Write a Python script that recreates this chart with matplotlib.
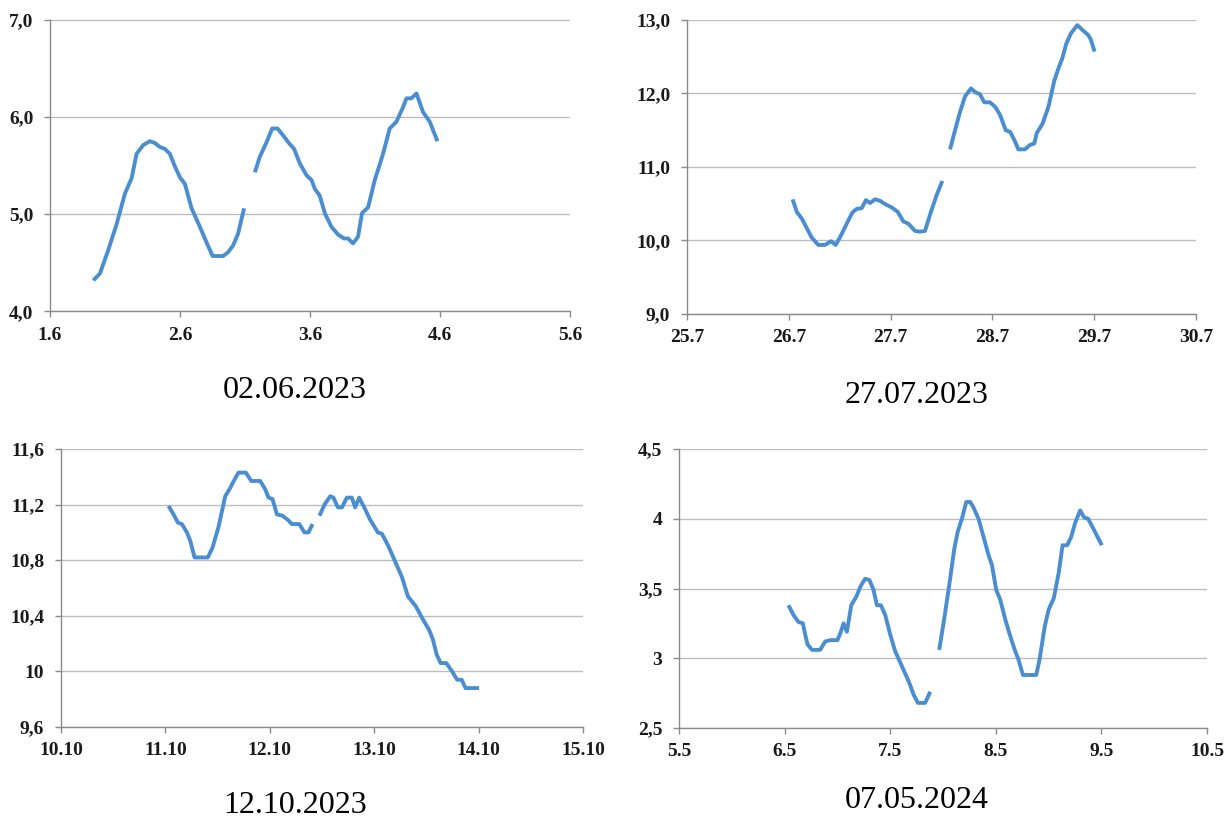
import numpy as np
import matplotlib.pyplot as plt

nan = np.nan

# 02.06.2023 (x in days, ticks 1..5 -> "1.6".."5.6")
x1 = [1.333, 1.384, 1.448, 1.513, 1.576, 1.628, 1.666, 1.717, 1.769, 1.807, 1.846, 1.884,
      1.922, 1.961, 1.999, 2.038, 2.089, 2.153, 2.204, 2.251, 2.294, 2.332, 2.371, 2.409,
      2.447, 2.493, nan,
      2.576, 2.614, 2.666, 2.709, 2.750, 2.793, 2.832, 2.878, 2.922, 2.973, 3.012, 3.037,
      3.075, 3.114, 3.165, 3.216, 3.262, 3.293, 3.331, 3.370, 3.400, 3.447, 3.498, 3.562,
      3.613, 3.665, 3.716, 3.742, 3.780, 3.819, 3.869, 3.921, 3.980]
y1 = [4.32, 4.39, 4.63, 4.90, 5.21, 5.37, 5.62, 5.71, 5.75, 5.73, 5.69, 5.67,
      5.62, 5.49, 5.38, 5.31, 5.06, 4.87, 4.71, 4.57, 4.57, 4.57, 4.61, 4.68,
      4.80, 5.06, nan,
      5.43, 5.59, 5.74, 5.88, 5.88, 5.81, 5.74, 5.67, 5.52, 5.40, 5.35, 5.26,
      5.19, 5.01, 4.87, 4.79, 4.75, 4.75, 4.70, 4.77, 5.01, 5.07, 5.35, 5.62,
      5.88, 5.95, 6.10, 6.19, 6.19, 6.24, 6.05, 5.95, 5.75]

# 27.07.2023
x2 = [26.038, 26.078, 26.127, 26.176, 26.225, 26.290, 26.356, 26.415, 26.461, 26.513,
      26.569, 26.624, 26.667, 26.716, 26.758, 26.798, 26.847, 26.896, 26.952, 27.011,
      27.070, 27.125, 27.174, 27.240, 27.289, 27.338, 27.387, 27.453, 27.508, nan,
      27.584, 27.633, 27.682, 27.731, 27.790, 27.829, 27.878, 27.920, 27.976, 28.026,
      28.075, 28.131, 28.173, 28.215, 28.255, 28.320, 28.369, 28.412, 28.435, 28.493,
      28.551, 28.609, 28.648, 28.687, 28.726, 28.772, 28.834, 28.880, 28.938, 28.965,
      29.004]
y2 = [10.56, 10.39, 10.30, 10.17, 10.04, 9.94, 9.94, 9.99, 9.94, 10.07,
      10.23, 10.38, 10.43, 10.44, 10.55, 10.51, 10.56, 10.54, 10.49, 10.45,
      10.39, 10.26, 10.23, 10.13, 10.12, 10.13, 10.35, 10.62, 10.81, nan,
      11.24, 11.50, 11.75, 11.96, 12.07, 12.02, 11.99, 11.88, 11.88, 11.82,
      11.71, 11.50, 11.48, 11.37, 11.24, 11.24, 11.30, 11.32, 11.46, 11.59,
      11.82, 12.18, 12.34, 12.48, 12.68, 12.82, 12.93, 12.87, 12.80, 12.74,
      12.57]

# 12.10.2023
x3 = [11.030, 11.078, 11.120, 11.158, 11.206, 11.238, 11.279, 11.333, 11.407, 11.451,
      11.509, 11.573, 11.621, 11.669, 11.700, 11.771, 11.822, 11.908, 11.956, 11.988,
      12.026, 12.068, 12.122, 12.173, 12.212, 12.282, 12.332, 12.371, 12.409, nan,
      12.476, 12.524, 12.579, 12.610, 12.652, 12.691, 12.738, 12.786, 12.818, 12.856,
      12.898, 12.962, 13.035, 13.074, 13.137, 13.201, 13.265, 13.323, 13.397, 13.470,
      13.525, 13.562, 13.599, 13.636, 13.691, 13.746, 13.794, 13.838, 13.875, 13.930,
      14.004]
y3 = [11.19, 11.13, 11.07, 11.06, 11.00, 10.94, 10.82, 10.82, 10.82, 10.89,
      11.04, 11.26, 11.32, 11.39, 11.43, 11.43, 11.37, 11.37, 11.31, 11.25,
      11.24, 11.13, 11.12, 11.09, 11.06, 11.06, 11.00, 11.00, 11.06, nan,
      11.12, 11.20, 11.26, 11.25, 11.18, 11.18, 11.25, 11.25, 11.18, 11.25,
      11.19, 11.09, 11.00, 10.99, 10.90, 10.79, 10.68, 10.54, 10.47, 10.37,
      10.30, 10.23, 10.12, 10.06, 10.06, 10.00, 9.94, 9.94, 9.88, 9.88,
      9.88]

# 07.05.2024
x4 = [6.037, 6.084, 6.132, 6.173, 6.195, 6.217, 6.259, 6.337, 6.384, 6.432,
      6.501, 6.533, 6.558, 6.590, 6.612, 6.631, 6.678, 6.722, 6.763, 6.804,
      6.842, 6.874, 6.912, 6.953, 7.000, 7.047, 7.095, 7.142, 7.183, 7.221,
      7.262, 7.331, 7.379, nan,
      7.464, 7.511, 7.562, 7.606, 7.637, 7.679, 7.720, 7.758, 7.789, 7.836,
      7.884, 7.931, 7.963, 8.004, 8.042, 8.089, 8.136, 8.184, 8.215, 8.257,
      8.326, 8.383, 8.414, 8.464, 8.501, 8.549, 8.595, 8.632, 8.676, 8.714,
      8.751, 8.799, 8.836, 8.874, 8.930, 9.004]
y4 = [3.38, 3.31, 3.26, 3.25, 3.17, 3.10, 3.06, 3.06, 3.12, 3.13,
      3.13, 3.19, 3.25, 3.19, 3.29, 3.38, 3.44, 3.52, 3.57, 3.56,
      3.49, 3.38, 3.38, 3.31, 3.17, 3.05, 2.97, 2.89, 2.82, 2.74,
      2.68, 2.68, 2.76, nan,
      3.06, 3.28, 3.54, 3.78, 3.90, 4.00, 4.12, 4.12, 4.08, 4.00,
      3.87, 3.74, 3.67, 3.49, 3.42, 3.28, 3.16, 3.05, 2.99, 2.88,
      2.88, 2.88, 2.99, 3.23, 3.35, 3.43, 3.61, 3.81, 3.81, 3.87,
      3.97, 4.06, 4.01, 4.00, 3.92, 3.81]

xt1 = ['1.6', '2.6', '3.6', '4.6', '5.6']
xt2 = ['25.7', '26.7', '27.7', '28.7', '29.7', '30.7']
xt3 = ['10.10', '11.10', '12.10', '13.10', '14.10', '15.10']
xt4 = ['5.5', '6.5', '7.5', '8.5', '9.5', '10.5']

yv1 = [4, 5, 6, 7]
yt1 = ['4,0', '5,0', '6,0', '7,0']
yv2 = [9, 10, 11, 12, 13]
yt2 = ['9,0', '10,0', '11,0', '12,0', '13,0']
yv3 = [9.6, 10.0, 10.4, 10.8, 11.2, 11.6]
yt3 = ['9,6', '10', '10,4', '10,8', '11,2', '11,6']
yv4 = [2.5, 3.0, 3.5, 4.0, 4.5]
yt4 = ['2,5', '3', '3,5', '4', '4,5']

captions = ['02.06.2023', '27.07.2023', '12.10.2023', '07.05.2024']

plt.rcParams['font.family'] = ['Liberation Serif', 'DejaVu Serif']

fig = plt.figure(figsize=(12.27, 8.22), dpi=100)

W, H = 1227.0, 822.0
# axes boxes in pixels: left, top, right, bottom
boxes = [(50, 19.5, 570, 311.5), (687, 20, 1196, 314),
         (61, 449, 583, 727), (679, 449, 1207, 728)]

panels = [
    (x1, y1, 1, xt1, yv1, yt1),
    (x2, y2, 25, xt2, yv2, yt2),
    (x3, y3, 10, xt3, yv3, yt3),
    (x4, y4, 5, xt4, yv4, yt4),
]

line_col = '#4a8ed0'
grid_col = '#bdbdbd'
axis_col = '#8a8a8a'

for (l, t, r, b), (xs, ys, x0, xt, yv, yt) in zip(boxes, panels):
    ax = fig.add_axes([l / W, 1 - b / H, (r - l) / W, (b - t) / H])
    ax.plot(xs, ys, color=line_col, lw=2.8, solid_capstyle='butt')
    ax.set_xlim(x0, x0 + len(xt) - 1)
    ax.set_ylim(yv[0], yv[-1])
    ax.set_xticks(np.arange(x0, x0 + len(xt)))
    ax.set_xticklabels(xt)
    ax.set_yticks(yv)
    ax.set_yticklabels(yt)
    for s in ['top', 'right']:
        ax.spines[s].set_visible(False)
    for s in ['left', 'bottom']:
        ax.spines[s].set_color(axis_col)
        ax.spines[s].set_linewidth(1.0)
    ax.yaxis.grid(True, color=grid_col, lw=1.0)
    ax.set_axisbelow(True)
    ax.tick_params(direction='out', length=4, width=1.0, color=axis_col,
                   labelsize=14, labelcolor='#1a1a1a')
    ax.tick_params(axis='x', pad=7)
    ax.tick_params(axis='y', pad=8)
    for lab in ax.get_xticklabels() + ax.get_yticklabels():
        lab.set_fontweight('bold')

cap_pos = [(295, 390), (917, 395), (295, 805), (917, 800)]
for (cx, cy), txt in zip(cap_pos, captions):
    fig.text(cx / W, 1 - cy / H, txt, ha='center', va='center', fontsize=23)

fig.savefig('out.png', dpi=100)
